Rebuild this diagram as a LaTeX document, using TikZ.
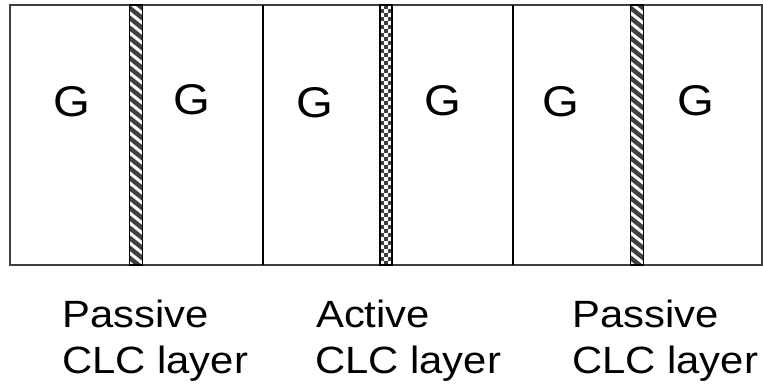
\documentclass[tikz,border=0pt]{standalone}
\usepackage{fontspec}
\newfontfamily\labfont[FakeStretch=1.1]{Liberation Sans}
\begin{document}
\begin{tikzpicture}[x=1pt,y=-1pt,
  frame/.style={draw=black!75, line width=2pt},
  divider/.style={draw=black, line width=2.5pt},
  stripframe/.style={draw=black, line width=1.3pt},
  hatchfill/.style={fill=black!75},
  gtext/.style={inner sep=0pt, font=\labfont\fontsize{43}{50}\selectfont},
  labtext/.style={inner sep=0pt, anchor=base west, font=\labfont\fontsize{38}{46}\selectfont}]
\useasboundingbox[fill=white] (0,0) rectangle (763,388);
% outer frame and panel dividers
\draw[frame] (10,5) rectangle (762,265);
\draw[divider] (263,5) -- (263,265);
\draw[divider] (513,5) -- (513,265);
% passive strip 1 (hatched)
\begin{scope}
\clip (129.5,5) rectangle (142.5,265);
\fill[hatchfill] (129.5,5) rectangle (142.5,265);
\foreach \k in {-2,...,28} \draw[white, line width=3pt] (126,\k*10) -- (146,\k*10+16);
\end{scope}
\draw[stripframe] (129.5,5) rectangle (142.5,265);
% passive strip 2 (hatched)
\begin{scope}
\clip (630.5,5) rectangle (643.5,265);
\fill[hatchfill] (630.5,5) rectangle (643.5,265);
\foreach \k in {-2,...,28} \draw[white, line width=3pt] (627,\k*10) -- (647,\k*10+16);
\end{scope}
\draw[stripframe] (630.5,5) rectangle (643.5,265);
% active strip (checkered)
\begin{scope}
\clip (380,5) rectangle (392,265);
\fill[white] (380,5) rectangle (392,265);
\foreach \j in {0,...,65} {
  \foreach \i in {0,1,2} {
    \pgfmathtruncatemacro{\chk}{mod(\i+\j,2)}
    \ifnum\chk=1
      \fill[black!75] (380+\i*4,5+\j*4) rectangle ++(4,4);
    \fi
  }
}
\end{scope}
\draw[stripframe] (380,5) rectangle (392,265);
% G labels
\node[gtext] (g1) at (72,102) {G};
\node[gtext] (g2) at (192,100) {G};
\node[gtext] (g3) at (315,103) {G};
\node[gtext] (g4) at (443,101) {G};
\node[gtext] (g5) at (561,102) {G};
\node[gtext] (g6) at (696,101) {G};
% captions
\node[labtext] (p1a) at (62,327) {Passive};
\node[labtext] (p1b) at (62,373) {CLC layer};
\node[labtext] (aa) at (316,327) {Active};
\node[labtext] (ab) at (315,373) {CLC layer};
\node[labtext] (p2a) at (572,327) {Passive};
\node[labtext] (p2b) at (572,373) {CLC layer};
\end{tikzpicture}
\end{document}
